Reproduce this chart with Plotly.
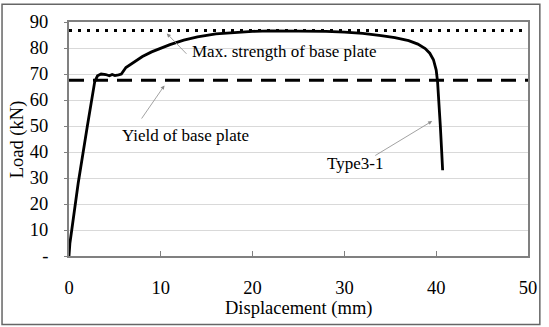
import plotly.graph_objects as go

# ---- data ----
disp = [0, 0.1, 0.3, 1.0, 2.0, 2.8, 3.1, 3.5, 4.0, 4.4, 4.7, 5.0, 5.4, 5.7, 6.2, 7.0, 8.0, 9.0,
        10.0, 11.0, 12.5, 14.0, 16.0, 18.0, 20.0, 22.0, 24.0, 26.0, 28.0, 30.0, 32.0, 34.0,
        35.5, 37.0, 38.0, 38.8, 39.3, 39.7, 40.0, 40.15, 40.3, 40.45, 40.6, 40.7]
load = [0, 5, 10, 28, 50, 67, 69.3, 70, 69.8, 69.3, 69.8, 69.4, 69.7, 70.0, 72.5, 74.5, 76.7, 78.5,
        80, 81.3, 83, 84.3, 85.4, 86.0, 86.4, 86.6, 86.6, 86.6, 86.4, 86.1, 85.6, 84.8,
        84.0, 82.8, 81.5, 79.8, 78.0, 75.5, 71.5, 67, 60, 50, 40, 33]
max_strength = 86.7
yield_load = 67.6
x_range = [0, 50]
x_ticks = [0, 10, 20, 30, 40, 50]
y_ticks = [0, 10, 20, 30, 40, 50, 60, 70, 80, 90]
y_ticktext = ["-", "10", "20", "30", "40", "50", "60", "70", "80", "90"]

FONT = "Liberation Serif"

fig = go.Figure()
fig.add_trace(go.Scatter(x=x_range, y=[max_strength, max_strength], mode="lines",
                         line=dict(color="black", width=3, dash="3px,6px"), hoverinfo="skip"))
fig.add_trace(go.Scatter(x=x_range, y=[yield_load, yield_load], mode="lines",
                         line=dict(color="black", width=3, dash="15px,9px"), hoverinfo="skip"))
fig.add_trace(go.Scatter(x=disp, y=load, mode="lines",
                         line=dict(color="black", width=2.8)))

annots = []
# arrows (head x,y ; tail ax,ay in data coords)
for (hx, hy, tx, ty) in [(10.65, 85.6, 12.95, 77.2), (10.4, 65.6, 7.8, 52.3), (39.56, 51.9, 33.2, 38.3)]:
    annots.append(dict(x=hx, y=hy, ax=tx, ay=ty, xref="x", yref="y", axref="x", ayref="y",
                       showarrow=True, arrowhead=2, arrowsize=1, arrowwidth=0.8,
                       arrowcolor="#8a8a8a", text=""))
annots.append(dict(x=13.15, y=78.5, xref="x", yref="y", text="Max. strength of base plate",
                   showarrow=False, xanchor="left", yanchor="middle",
                   font=dict(family=FONT, size=17, color="black")))
annots.append(dict(x=5.55, y=46.3, xref="x", yref="y", text="Yield of base plate",
                   showarrow=False, xanchor="left", yanchor="middle",
                   font=dict(family=FONT, size=17, color="black")))
annots.append(dict(x=27.9, y=35.6, xref="x", yref="y", text="Type3-1",
                   showarrow=False, xanchor="left", yanchor="middle",
                   font=dict(family=FONT, size=17, color="black")))
annots.append(dict(x=0.5, y=-0.2236, xref="paper", yref="paper", text="Displacement (mm)",
                   showarrow=False, xanchor="center", yanchor="middle",
                   font=dict(family=FONT, size=18.5, color="black")))
annots.append(dict(x=-0.1127, y=0.5, xref="paper", yref="paper", text="Load (kN)",
                   showarrow=False, xanchor="center", yanchor="middle", textangle=-90,
                   font=dict(family=FONT, size=18.5, color="black")))

fig.update_layout(
    width=549, height=327,
    margin=dict(l=69, r=14, t=19, b=71),
    paper_bgcolor="white", plot_bgcolor="white",
    showlegend=False,
    annotations=annots,
    shapes=[dict(type="rect", xref="paper", yref="paper",
                 x0=-0.1459, x1=1.0258, y0=-0.2932, y1=1.0759,
                 line=dict(color="#666666", width=1.5), layer="above")],
    font=dict(family=FONT, size=18.5, color="black"),
)
fig.update_xaxes(range=x_range, tickvals=x_ticks, showgrid=False, zeroline=False,
                 showline=True, mirror=True, linecolor="#808080", linewidth=2,
                 ticks="inside", ticklen=5, tickcolor="#808080", tickwidth=1,
                 ticklabelstandoff=14, tickfont=dict(family=FONT, size=18.5))
fig.update_yaxes(range=[0, 90], tickvals=y_ticks, ticktext=y_ticktext, showgrid=True,
                 gridcolor="#d9d9d9", gridwidth=1, zeroline=False,
                 showline=True, mirror=True, linecolor="#808080", linewidth=2,
                 ticks="outside", ticklen=3, tickcolor="#808080", tickwidth=1,
                 ticklabelstandoff=12, tickfont=dict(family=FONT, size=18.5))

fig.write_html("out.html")
